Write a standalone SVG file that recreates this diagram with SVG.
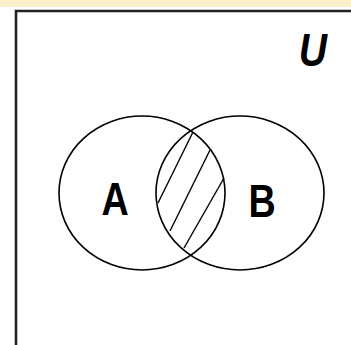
<svg xmlns="http://www.w3.org/2000/svg" width="351" height="345" viewBox="0 0 351 345">
<style>
.set{fill:none;stroke:#000;stroke-width:1.6}
.hatch{fill:none;stroke:#000;stroke-width:1.4}
.lbl{font-family:"Liberation Sans",Arial,sans-serif;font-weight:bold;font-size:46px;fill:#000;text-anchor:middle}
</style>
<rect x="0" y="0" width="351" height="345" fill="#fff"/>
<rect x="0" y="0" width="351" height="7" fill="#fbf0cc"/>
<g id="universe">
<path d="M16 345 V11 H351" fill="none" stroke="#222" stroke-width="2.6"/>
<text x="313" y="66" class="lbl" font-style="italic" transform="translate(313 0) scale(0.85 1) translate(-313 0)">U</text>
</g>
<g id="setA">
<ellipse class="set" cx="142" cy="193" rx="83" ry="77"/>
<text x="115" y="215" class="lbl" transform="translate(115 0) scale(0.82 1) translate(-115 0)">A</text>
</g>
<g id="setB">
<ellipse class="set" cx="240" cy="193" rx="84" ry="77"/>
<text x="262" y="217" class="lbl" transform="translate(262 0) scale(0.82 1) translate(-262 0)">B</text>
</g>
<g id="intersection">
<line class="hatch" x1="193" y1="132" x2="158" y2="203"/>
<line class="hatch" x1="210" y1="150" x2="170" y2="231"/>
<line class="hatch" x1="224" y1="178" x2="184" y2="248"/>
</g>
</svg>
